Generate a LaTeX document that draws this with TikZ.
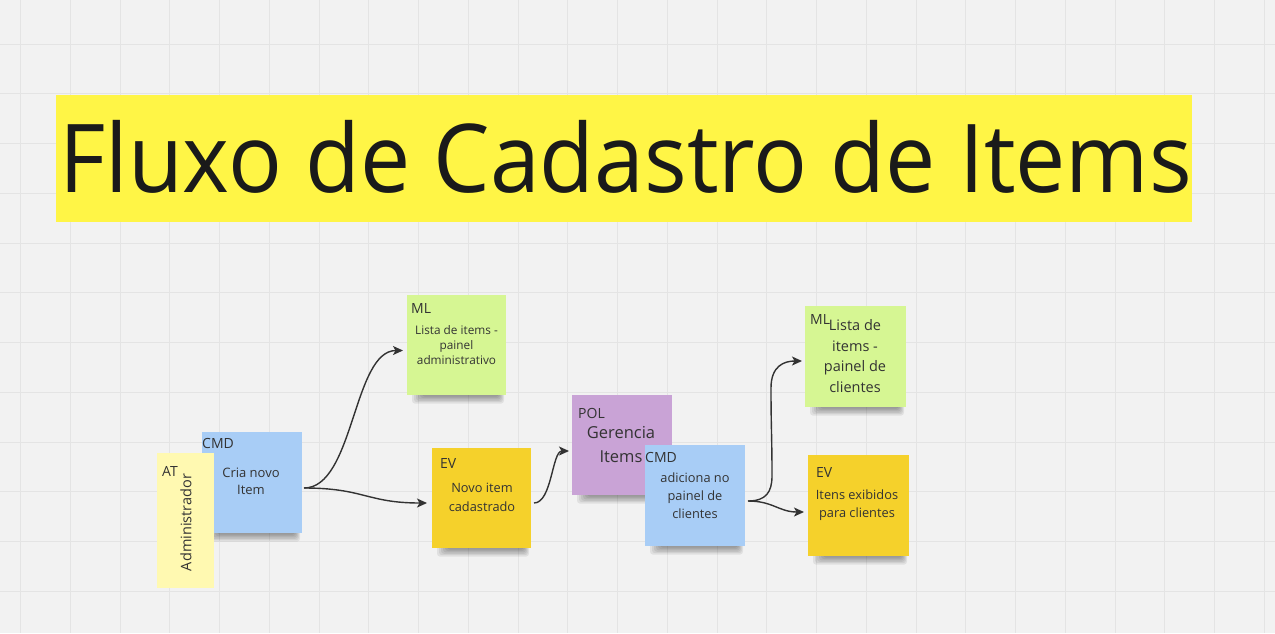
\documentclass[tikz,border=0pt]{standalone}
\usepackage{fontspec}
\setmainfont{Open Sans}
\usetikzlibrary{arrows.meta,calc}
\definecolor{bg}{HTML}{F2F2F2}
\definecolor{gridc}{HTML}{E4E4E4}
\definecolor{banner}{HTML}{FFF546}
\definecolor{atc}{HTML}{FFF9B1}
\definecolor{cmdc}{HTML}{A8CDF6}
\definecolor{mlc}{HTML}{D6F693}
\definecolor{evc}{HTML}{F5D12B}
\definecolor{polc}{HTML}{C9A3D6}
\definecolor{ink}{HTML}{333333}
\definecolor{titleink}{HTML}{1A1A1A}
\tikzset{
  notebox/.style={inner sep=0pt, outer sep=0pt, anchor=north west},
  gridline/.style={draw=gridc, line width=1pt},
  tagtext/.style={inner sep=0pt, anchor=west, text=ink, font=\fontsize{14}{17}\selectfont},
  bodytext/.style={inner sep=0pt, align=center, text=ink},
  conn/.style={draw=ink, line width=1.4pt, -{Stealth[length=10pt,width=9pt,inset=2.5pt]}},
}
\newcommand\mkShadow[4]{% x0, y0, w, h
  \foreach \k in {1,...,6}{%
    \fill[black,opacity=0.07,rounded corners=3pt] ({#1+3+2*\k},{#2+#4-6}) rectangle ({#1+#3-1-\k},{#2+#4+10-1.4*\k});
  }%
}
\begin{document}
\begin{tikzpicture}[x=1pt,y=-1pt]
\useasboundingbox (0,0) rectangle (1275,633);
\fill[bg] (0,0) rectangle (1275,633);
\foreach \i in {0,...,25} \draw[gridline] ({20.5+49.75*\i},0) -- ({20.5+49.75*\i},633);
\foreach \j in {0,...,11} \draw[gridline] (0,{44+49.75*\j}) -- (1275,{44+49.75*\j});

% title banner
\node[notebox, fill=banner, minimum width=1136pt, minimum height=127pt] (banner) at (56,95) {};
\node[inner sep=0pt, anchor=base, text=titleink, font=\fontsize{95}{100}\selectfont] (title) at (625.5,192) {\scalebox{0.942}[1]{Fluxo de Cadastro de Items}};

% CMD 1
\mkShadow{202}{432}{100}{101}
\node[notebox, fill=cmdc, minimum width=100pt, minimum height=101pt] (cmdA) at (202,432) {};
\node[tagtext] (cmdAtag) at (202,443) {CMD};
\node[bodytext, font=\fontsize{13}{16.5}\selectfont] (cmdAtxt) at (251,481.5) {Cria novo\\Item};

% AT
\node[notebox, fill=atc, minimum width=57pt, minimum height=135pt] (atA) at (157,453) {};
\node[tagtext] (atAtag) at (162,471) {AT};
\node[inner sep=0pt, rotate=90, text=ink, font=\fontsize{14.5}{17}\selectfont] (atAtxt) at (186,522.5) {Administrador};

% ML 1
\mkShadow{407}{295}{99}{100}
\node[notebox, fill=mlc, minimum width=99pt, minimum height=100pt] (mlA) at (407,295) {};
\node[tagtext] (mlAtag) at (411,308) {ML};
\node[bodytext, font=\fontsize{11.8}{15}\selectfont] (mlAtxt) at (456.5,345.5) {Lista de items -\\painel\\administrativo};

% EV 1
\mkShadow{432}{448}{99}{100}
\node[notebox, fill=evc, minimum width=99pt, minimum height=100pt] (evA) at (432,448) {};
\node[tagtext] (evAtag) at (440,463) {EV};
\node[bodytext, font=\fontsize{12.8}{19}\selectfont] (evAtxt) at (482,497) {Novo item\\cadastrado};

% POL
\mkShadow{572}{395}{100}{100}
\node[notebox, fill=polc, minimum width=100pt, minimum height=100pt] (polA) at (572,395) {};
\node[tagtext] (polAtag) at (578,413) {POL};
\node[bodytext, font=\fontsize{16.5}{24}\selectfont] (polAtxt) at (621,444.5) {Gerencia\\Items};

% CMD 2
\mkShadow{645}{445}{100}{101}
\node[notebox, fill=cmdc, minimum width=100pt, minimum height=101pt] (cmdB) at (645,445) {};
\node[tagtext] (cmdBtag) at (645,457) {CMD};
\node[bodytext, font=\fontsize{12.8}{18}\selectfont] (cmdBtxt) at (695,495.5) {adiciona no\\painel de\\clientes};

% ML 2
\mkShadow{805}{306}{101}{101}
\node[notebox, fill=mlc, minimum width=101pt, minimum height=101pt] (mlB) at (805,306) {};
\node[tagtext] (mlBtag) at (810,319) {ML};
\node[bodytext, font=\fontsize{14.5}{20.5}\selectfont] (mlBtxt) at (855,356) {Lista de\\items -\\painel de\\clientes};

% EV 2
\mkShadow{808}{455}{101}{101}
\node[notebox, fill=evc, minimum width=101pt, minimum height=101pt] (evB) at (808,455) {};
\node[tagtext] (evBtag) at (816,472) {EV};
\node[bodytext, font=\fontsize{12.8}{18}\selectfont] (evBtxt) at (857,505.5) {Itens exibidos\\para clientes};

% connectors
\coordinate (w1) at (772,476);
\coordinate (w2) at (771,388);
\draw[conn] ($(cmdA.east)+(2,5.5)$) .. controls +(50,0) and +(-50,0) .. ($(mlA.west)+(-4,5.5)$);
\draw[conn] ($(cmdA.east)+(2,5.5)$) .. controls +(60,0) and +(-60,0) .. ($(evA.west)+(-5,5)$);
\draw[conn] ($(evA.east)+(3,5)$) .. controls +(18,0) and +(-17,0) .. ($(polA.west)+(-3,6)$);
\draw[conn] ($(cmdB.east)+(3,5.5)$) .. controls +(18,0) and +(0,16) .. (w1) .. controls +(0,-40) and +(0,40) .. (w2) .. controls +(0,-22) and +(-18,0) .. ($(mlB.west)+(-3,4.5)$);
\draw[conn] ($(cmdB.east)+(3,5.5)$) .. controls +(25,0) and +(-25,0) .. ($(evB.west)+(-4,6.5)$);
\end{tikzpicture}
\end{document}
